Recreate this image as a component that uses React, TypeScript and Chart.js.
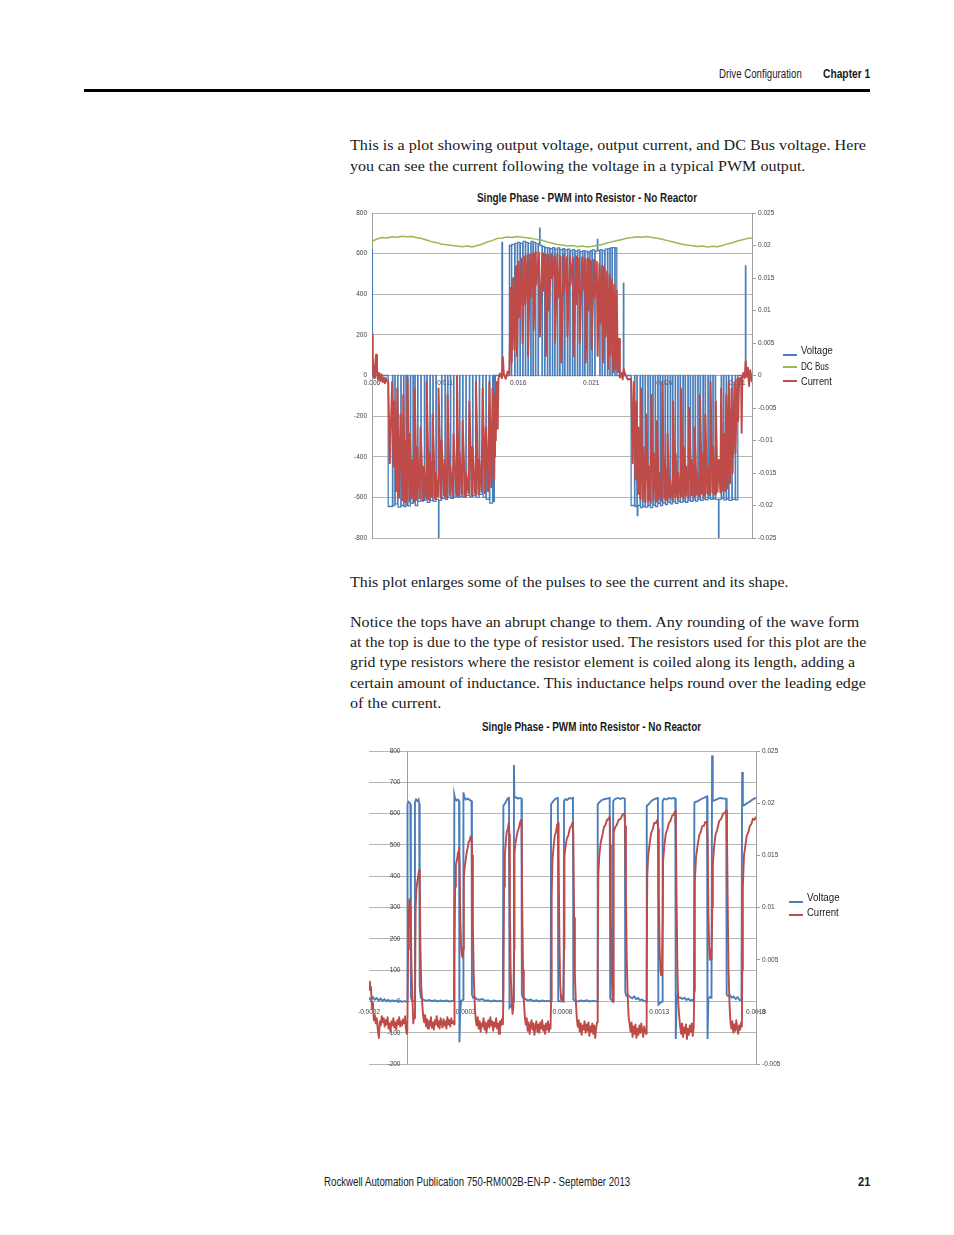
import React, { useEffect, useLayoutEffect, useRef } from 'react';
import { Chart, registerables } from 'chart.js';

Chart.register(...registerables);

// ---------------- DATA: wide view (Single Phase - PWM into Resistor - No Reactor) ----------------
const wideTimeTicks = [0.006, 0.011, 0.016, 0.021, 0.026, 0.031];
const wideTimeLabels = ['0.006', '0.011', '0.016', '0.021', '0.026', '0.031'];
const wideVoltTicks = [800, 600, 400, 200, 0, -200, -400, -600, -800];
const wideVoltLabels = ['800', '600', '400', '200', '0', '-200', '-400', '-600', '-800'];
const wideCurrentTicks = [0.025, 0.02, 0.015, 0.01, 0.005, 0, -0.005, -0.01, -0.015, -0.02, -0.025];
const wideCurrentLabels = ['0.025', '0.02', '0.015', '0.01', '0.005', '0', '-0.005', '-0.01', '-0.015', '-0.02', '-0.025'];

// Voltage as steps: [time s, volts held from that time on]
const wideVoltageSteps: [number, number][] = [
  [0.006, 620], [0.00603, 0],
  // negative half cycle 1
  [0.00711, -645], [0.0074, 0], [0.00743, -640], [0.00756, 0], [0.00759, -632], [0.00775, 0], [0.00778, -648],
  [0.00797, 0], [0.008, -640], [0.00816, 0], [0.00819, -645], [0.00832, 0], [0.00835, -638], [0.00843, 0],
  [0.00846, -642], [0.00862, 0], [0.00865, -630], [0.0088, 0], [0.00883, -626], [0.00893, 0], [0.00896, -640],
  [0.00912, 0], [0.00915, -620], [0.00934, 0], [0.00937, -615], [0.00958, 0], [0.00961, -612], [0.00975, 0],
  [0.00978, -625], [0.00996, 0], [0.00999, -615], [0.01016, 0], [0.01019, -620], [0.01037, 0], [0.0104, -610],
  [0.01055, -800], [0.01058, -615], [0.01076, 0], [0.01079, -605], [0.01099, 0], [0.01102, -610], [0.01117, 0],
  [0.0112, -600], [0.01136, 0], [0.01139, -605], [0.01158, 0], [0.01161, -598], [0.01181, 0], [0.01184, -600],
  [0.01199, 0], [0.01202, -595], [0.0122, 0], [0.01223, -600], [0.01242, 0], [0.01245, -590], [0.01266, 0],
  [0.01269, -598], [0.01288, 0], [0.01291, -592], [0.01311, 0], [0.01314, -600], [0.01334, 0], [0.01337, -585],
  [0.01357, 0], [0.0136, -600], [0.01379, 0], [0.01382, -610], [0.01403, 0], [0.01406, -628], [0.01425, 0],
  [0.01428, -620], [0.01437, 0], [0.0144, -400], [0.01444, 0],
  // positive half cycle
  [0.01489, 655], [0.01493, 0],
  [0.0154, 640], [0.01553, 0], [0.01556, 645], [0.01576, 0], [0.01579, 650], [0.01594, 0], [0.01597, 655],
  [0.01612, 0], [0.01615, 650], [0.01631, 0], [0.01634, 660], [0.01649, 0], [0.01652, 655], [0.01667, 0],
  [0.0167, 650], [0.01686, 0], [0.01689, 660], [0.01701, 0], [0.01704, 655], [0.01718, 0], [0.01721, 650],
  [0.01736, 0], [0.01739, 648], [0.01747, 726], [0.0175, 640], [0.01763, 0], [0.01766, 635], [0.01781, 0],
  [0.01784, 630], [0.018, 0], [0.01803, 628], [0.01816, 0], [0.01819, 625], [0.01834, 0], [0.01837, 630],
  [0.0185, 0], [0.01853, 622], [0.01868, 0], [0.01871, 628], [0.01884, 0], [0.01887, 620], [0.01903, 0],
  [0.01906, 625], [0.01918, 0], [0.01921, 618], [0.01937, 0], [0.0194, 622], [0.01953, 0], [0.01956, 615],
  [0.01971, 0], [0.01974, 620], [0.01987, 0], [0.0199, 612], [0.02005, 0], [0.02008, 618], [0.02021, 0],
  [0.02024, 610], [0.0204, 0], [0.02043, 615], [0.02055, 0], [0.02058, 612], [0.02074, 0], [0.02077, 608],
  [0.0209, 0], [0.02093, 615], [0.02105, 0], [0.02108, 618], [0.02124, 0], [0.02127, 612], [0.02142, 670],
  [0.02145, 615], [0.02158, 0], [0.02161, 620], [0.02174, 0], [0.02177, 615], [0.02192, 0], [0.02195, 622],
  [0.02211, 0], [0.02214, 625], [0.02227, 0], [0.0223, 628], [0.02242, 0], [0.02245, 630], [0.02261, 0],
  [0.02264, 628], [0.02275, 0],
  [0.0232, 455], [0.02323, 0],
  // negative half cycle 2
  [0.02373, -640], [0.02396, 0], [0.02399, -645], [0.02412, 0], [0.02415, -690], [0.02419, -640], [0.02434, 0],
  [0.02437, -650], [0.02451, 0], [0.02454, -645], [0.02468, 0], [0.02471, -648], [0.02487, 0], [0.0249, -640],
  [0.02503, 0], [0.02506, -650], [0.02521, 0], [0.02524, -638], [0.02537, 0], [0.0254, -645], [0.02555, 0],
  [0.02558, -630], [0.02571, 0], [0.02574, -640], [0.02588, 0], [0.02591, -628], [0.02605, 0], [0.02608, -635],
  [0.02622, 0], [0.02625, -625], [0.0264, 0], [0.02643, -632], [0.02656, 0], [0.02659, -622], [0.02674, 0],
  [0.02677, -630], [0.02692, 0], [0.02695, -620], [0.02708, 0], [0.02711, -625], [0.02727, 0], [0.0273, -618],
  [0.02742, 0], [0.02745, -624], [0.02761, 0], [0.02764, -615], [0.02777, 0], [0.0278, -620], [0.02795, 0],
  [0.02798, -612], [0.02811, 0], [0.02814, -618], [0.02829, 0], [0.02832, -610], [0.02845, 0], [0.02848, -615],
  [0.02864, 0], [0.02867, -608], [0.02879, 0], [0.02882, -612], [0.02898, 0], [0.02901, -605], [0.02914, 0],
  [0.02917, -610], [0.02932, 0], [0.02935, -606], [0.02948, 0], [0.02951, -610], [0.02971, -800], [0.02974, -610],
  [0.02989, 0], [0.02992, -605], [0.03005, 0], [0.03008, -612], [0.03023, 0], [0.03026, -608], [0.0304, 0],
  [0.03043, -615], [0.03062, 0], [0.03065, -610], [0.03085, 0], [0.03088, -612], [0.03103, 0],
  [0.03155, 540], [0.03158, 0], [0.032, 0],
];

// DC Bus voltage [s, V]
const wideDcBus: [number, number][] = [
  [0.006, 660], [0.00634, 672], [0.00668, 679], [0.00703, 677], [0.00737, 683], [0.00771, 681], [0.00805, 686],
  [0.0084, 683], [0.00874, 684], [0.00908, 678], [0.00942, 674], [0.00977, 666], [0.01011, 658], [0.01045, 654],
  [0.01079, 646], [0.01114, 644], [0.01148, 640], [0.01182, 638], [0.01216, 634], [0.01251, 637], [0.01285, 633],
  [0.01319, 640], [0.01353, 646], [0.01388, 657], [0.01422, 664], [0.01456, 674], [0.0149, 677], [0.01525, 682],
  [0.01559, 679], [0.01593, 684], [0.01627, 681], [0.01662, 678], [0.01696, 675], [0.0173, 669], [0.01764, 666],
  [0.01799, 657], [0.01833, 651], [0.01867, 645], [0.01901, 643], [0.01936, 638], [0.0197, 640], [0.02004, 634],
  [0.02038, 637], [0.02073, 633], [0.02107, 636], [0.02141, 641], [0.02175, 645], [0.0221, 652], [0.02244, 659],
  [0.02278, 665], [0.02312, 670], [0.02347, 677], [0.02381, 679], [0.02415, 683], [0.02449, 681], [0.02484, 684],
  [0.02518, 679], [0.02552, 676], [0.02586, 671], [0.02621, 664], [0.02655, 658], [0.02689, 652], [0.02723, 646],
  [0.02758, 642], [0.02792, 639], [0.02826, 635], [0.0286, 637], [0.02895, 633], [0.02929, 636], [0.02963, 634],
  [0.02997, 640], [0.03032, 648], [0.03066, 654], [0.031, 662], [0.03134, 668], [0.03169, 675], [0.032, 677],
];

// Current [s, A] (right axis)
const wideCurrent: [number, number][] = [
  [0.006, 0.0063], [0.00605, 0.003], [0.0061, 0.0002], [0.00615, -0.0004], [0.0062, 0.001], [0.00628, 0.0032],
  [0.00634, 0.0005], [0.0064, -0.0006], [0.00648, 0.0004], [0.00656, -0.0008], [0.00664, 0.0002], [0.00672, -0.001],
  [0.0068, -0.0003], [0.00688, -0.0012], [0.00696, -0.0004], [0.00704, -0.0009],
  [0.00711, -0.001], [0.00722, -0.0135], [0.00738, -0.001], [0.00748, -0.014], [0.00754, -0.004], [0.00765, -0.0178],
  [0.00773, -0.002], [0.00785, -0.0188], [0.00795, -0.006], [0.00808, -0.0192], [0.00814, -0.003], [0.00826, -0.0195],
  [0.0083, -0.01], [0.00839, -0.019], [0.00843, -0.0005], [0.00856, -0.0194], [0.0086, -0.009], [0.00872, -0.0189],
  [0.00876, -0.013], [0.00888, -0.0193], [0.00892, -0.002], [0.00906, -0.0191], [0.0091, -0.011], [0.00926, -0.0189],
  [0.00932, -0.008], [0.0095, -0.0193], [0.00956, -0.014], [0.0097, -0.0188], [0.00974, -0.001], [0.0099, -0.0191],
  [0.00995, -0.012], [0.0101, -0.0187], [0.01015, -0.006], [0.01032, -0.019], [0.01036, -0.015], [0.01052, -0.0186],
  [0.01055, -0.002], [0.01072, -0.0189], [0.01076, -0.01], [0.01093, -0.0185], [0.01098, -0.013], [0.01113, -0.0188],
  [0.01117, -0.003], [0.01132, -0.0184], [0.01136, -0.014], [0.01153, -0.0187], [0.01158, -0.009], [0.01176, -0.0184],
  [0.01181, -0.0002], [0.01195, -0.0185], [0.01199, -0.012], [0.01215, -0.0183], [0.0122, -0.007], [0.01237, -0.0186],
  [0.01242, -0.015], [0.0126, -0.0181], [0.01266, -0.004], [0.01283, -0.0185], [0.01288, -0.011], [0.01305, -0.0182],
  [0.01311, -0.001], [0.01328, -0.0183], [0.01334, -0.013], [0.0135, -0.0179], [0.01357, -0.002], [0.01372, -0.0181],
  [0.01379, -0.008], [0.01394, -0.0178], [0.01403, -0.001], [0.01416, -0.0172], [0.01425, -0.002], [0.01436, -0.016],
  [0.01442, -0.003], [0.01447, -0.01], [0.01452, -0.001], [0.0146, -0.0082], [0.01465, -0.0005], [0.01475, 0.0003],
  [0.01489, -0.0004], [0.01495, 0.0028], [0.01502, 0.0002], [0.01515, -0.0005], [0.01528, 0.0006],
  [0.0154, 0.0002], [0.0155, 0.0135], [0.01556, 0.002], [0.01566, 0.015], [0.01574, 0.004], [0.01586, 0.0168],
  [0.01592, 0.003], [0.01604, 0.0175], [0.0161, 0.009], [0.01624, 0.018], [0.0163, 0.005], [0.01644, 0.0183],
  [0.01649, 0.011], [0.01664, 0.0185], [0.01668, 0.003], [0.01682, 0.0186], [0.01686, 0.012], [0.01702, 0.0188],
  [0.01706, 0.007], [0.0172, 0.019], [0.01724, 0.014], [0.01742, 0.0189], [0.01749, 0.006], [0.01765, 0.0188],
  [0.0177, 0.013], [0.01786, 0.0186], [0.0179, 0.003], [0.01806, 0.0185], [0.0181, 0.01], [0.01828, 0.0187],
  [0.01832, 0.015], [0.01848, 0.0184], [0.01852, 0.005], [0.01868, 0.0186], [0.01873, 0.012], [0.0189, 0.0183],
  [0.01895, 0.002], [0.01912, 0.0185], [0.01916, 0.013], [0.01932, 0.0182], [0.01937, 0.006], [0.01954, 0.0184],
  [0.01958, 0.014], [0.01975, 0.0181], [0.0198, 0.003], [0.01996, 0.0183], [0.02, 0.011], [0.02016, 0.018],
  [0.02021, 0.005], [0.02038, 0.0182], [0.02042, 0.013], [0.02058, 0.0179], [0.02062, 0.002], [0.02078, 0.018],
  [0.02083, 0.01], [0.02098, 0.0176], [0.02103, 0.004], [0.02118, 0.0178], [0.02124, 0.012], [0.02138, 0.0175],
  [0.02144, 0.003], [0.02156, 0.0172], [0.02162, 0.008], [0.02174, 0.0168], [0.0218, 0.002], [0.02192, 0.0165],
  [0.02198, 0.006], [0.02209, 0.016], [0.02215, 0.001], [0.02226, 0.0155], [0.02232, 0.003], [0.02242, 0.0148],
  [0.0225, 0.0005], [0.02258, 0.014], [0.02266, 0.001], [0.02274, 0.013], [0.02282, 0.0005], [0.0229, 0.0056],
  [0.02296, -0.0003], [0.02305, 0.0004], [0.02315, -0.0006], [0.02322, 0.001], [0.0233, 0.0003], [0.0235, -0.0006],
  [0.02373, -0.0005], [0.02384, -0.0135], [0.02392, -0.001], [0.02403, -0.016], [0.02409, -0.004], [0.0242, -0.0182],
  [0.02424, -0.008], [0.02436, -0.019], [0.02441, -0.002], [0.02453, -0.0193], [0.02458, -0.011], [0.02471, -0.0195],
  [0.02477, -0.006], [0.0249, -0.0192], [0.02494, -0.014], [0.02507, -0.0196], [0.02512, -0.003], [0.02526, -0.0192],
  [0.0253, -0.012], [0.02545, -0.0194], [0.02549, -0.007], [0.02563, -0.019], [0.02567, -0.015], [0.02582, -0.0193],
  [0.02586, -0.001], [0.02601, -0.0189], [0.02604, -0.013], [0.02619, -0.0192], [0.02622, -0.009], [0.02637, -0.0188],
  [0.0264, -0.016], [0.02656, -0.0191], [0.02659, -0.004], [0.02674, -0.0187], [0.02677, -0.012], [0.02693, -0.019],
  [0.02696, -0.015], [0.02711, -0.0186], [0.02714, -0.002], [0.0273, -0.0189], [0.02733, -0.011], [0.02748, -0.0185],
  [0.02751, -0.014], [0.02767, -0.0188], [0.0277, -0.005], [0.02785, -0.0184], [0.02788, -0.013], [0.02804, -0.0187],
  [0.02807, -0.008], [0.02822, -0.0183], [0.02825, -0.015], [0.0284, -0.0186], [0.02843, -0.003], [0.02858, -0.0182],
  [0.02862, -0.012], [0.02876, -0.0185], [0.0288, -0.006], [0.02894, -0.0181], [0.02898, -0.014], [0.02912, -0.0184],
  [0.02916, -0.001], [0.02929, -0.018], [0.02934, -0.011], [0.02947, -0.0183], [0.02952, -0.004], [0.02964, -0.0179],
  [0.02973, -0.013], [0.02984, -0.018], [0.02989, -0.002], [0.03, -0.0177], [0.03007, -0.009], [0.03017, -0.0178],
  [0.03024, -0.003], [0.03033, -0.0174], [0.03041, -0.001], [0.03049, -0.0166], [0.0306, -0.002], [0.03067, -0.015],
  [0.0308, -0.001], [0.03086, -0.012], [0.031, -0.0005], [0.03105, -0.007], [0.03112, -0.0004], [0.0312, -0.001],
  [0.03126, -0.0003], [0.03129, -0.0088], [0.03133, -0.0006], [0.0314, 0.0004], [0.0315, -0.0004], [0.03157, 0.0022],
  [0.03163, -0.0002], [0.03172, 0.0012], [0.0318, -0.0016], [0.03188, 0.0008], [0.032, -0.001],
];

// ---------------- DATA: zoomed view ----------------
const zoomTimeTicks = [-0.0002, 0.0003, 0.0008, 0.0013, 0.0018];
const zoomTimeLabels = ['-0.0002', '0.0003', '0.0008', '0.0013', '0.0018'];
const zoomVoltTicks = [800, 700, 600, 500, 400, 300, 200, 100, 0, -100, -200];
const zoomVoltLabels = ['800', '700', '600', '500', '400', '300', '200', '100', '0', '-100', '-200'];
const zoomCurrentTicks = [0.025, 0.02, 0.015, 0.01, 0.005, 0, -0.005];
const zoomCurrentLabels = ['0.025', '0.02', '0.015', '0.01', '0.005', '0', '-0.005'];

const zoomVoltage: [number, number][] = [
  [-0.0002, 12], [-0.00019, 5], [-0.00018, 14], [-0.00017, 6], [-0.00016, 11], [-0.00015, 3], [-0.00014, 9],
  [-0.00013, 2], [-0.00012, 7], [-0.00011, 1], [-0.0001, 5], [-0.00009, 0], [-0.00008, 4], [-0.00007, 1],
  [-0.00006, 3], [-0.00005, 0], [-0.00004, 2], [-0.00003, -1], [-0.00002, 1], [-0.00001, 0], [-0.000003, 0],
  [-0.000001, 630], [0.000004, 638], [0.00001, 635], [0.000014, 630], [0.0000165, 15], [0.000022, 3], [0.00003, 0],
  [0.0000355, 2], [0.0000375, 636], [0.000043, 645], [0.00005, 640], [0.000056, 645], [0.0000595, 632], [0.000062, 45],
  [0.000068, 12], [0.00008, 6], [0.000095, 2], [0.00011, 5], [0.000125, 1], [0.00014, 4], [0.000155, 0], [0.00017, 3],
  [0.000185, 1], [0.0002, 3], [0.000215, 0], [0.00023, 2], [0.000239, 1],
  [0.000241, 660], [0.000245, 648], [0.000252, 642], [0.00026, 645], [0.0002655, 640], [0.0002675, -130],
  [0.000271, -35], [0.000276, 2], [0.000283, 4], [0.000286, 6],
  [0.000288, 668], [0.000293, 652], [0.0003, 645], [0.00031, 648], [0.00032, 644], [0.00033, 640], [0.000332, 22],
  [0.000338, 12], [0.000345, 15], [0.000355, 8], [0.00037, 5], [0.000385, 8], [0.0004, 2], [0.000415, 4], [0.00043, 0],
  [0.000445, 3], [0.00046, 1], [0.000475, 2], [0.000492, 0],
  [0.0004945, 625], [0.0005, 630], [0.000508, 638], [0.000516, 648], [0.0005235, 650], [0.000526, -20],
  [0.000533, -15], [0.000541, -5], [0.000547, 0],
  [0.000549, 755], [0.0005515, 650], [0.00056, 652], [0.00057, 648], [0.00058, 650], [0.000588, 648], [0.00059, 22],
  [0.000597, 10], [0.000608, 8], [0.00062, 3], [0.000635, 6], [0.00065, 1], [0.000665, 4], [0.00068, 0], [0.000695, 3],
  [0.00071, 1], [0.000725, 2], [0.000739, 0],
  [0.000741, 630], [0.000748, 636], [0.000756, 642], [0.000765, 648], [0.000776, 650], [0.000778, 2], [0.000788, 0],
  [0.0008, 2], [0.000806, 0],
  [0.000808, 640], [0.000815, 646], [0.000825, 644], [0.000835, 650], [0.000845, 648], [0.000854, 650], [0.000856, 6],
  [0.000865, 2], [0.00088, 0], [0.000895, 3], [0.00091, 1], [0.000925, 4], [0.00094, 0], [0.000955, 2], [0.00097, 1],
  [0.00098, 0],
  [0.000982, 630], [0.00099, 636], [0.001, 642], [0.001015, 646], [0.00103, 648], [0.001044, 650], [0.0010465, 10],
  [0.001054, 4], [0.00106, 0],
  [0.001062, 640], [0.00107, 646], [0.001085, 650], [0.0011, 647], [0.001112, 650], [0.001122, 648], [0.0011245, 30],
  [0.00113, 18], [0.00114, 20], [0.00115, 14], [0.00116, 10], [0.00117, 16], [0.00118, 8], [0.00119, 11], [0.0012, 4],
  [0.00121, 6], [0.00122, 2], [0.001233, 0],
  [0.0012355, 625], [0.001245, 630], [0.001258, 640], [0.00127, 645], [0.001282, 648], [0.001293, 650],
  [0.0012955, -10], [0.001305, -5], [0.001315, 0],
  [0.0013175, 640], [0.001325, 648], [0.001338, 645], [0.00135, 650], [0.001362, 648], [0.001375, 650], [0.001383, 648],
  [0.0013855, -120], [0.00139, 18], [0.001398, 14], [0.00141, 12], [0.00142, 8], [0.00143, 12], [0.00144, 5],
  [0.00145, 9], [0.00146, 3], [0.00147, 5], [0.001479, 0],
  [0.0014815, 635], [0.00149, 638], [0.0015, 640], [0.001515, 646], [0.00153, 650], [0.001547, 655], [0.0015495, -120],
  [0.001554, 10], [0.001562, 14], [0.00157, 12],
  [0.001573, 786], [0.0015765, 640], [0.001585, 642], [0.0016, 646], [0.001615, 650], [0.00163, 648], [0.001646, 648],
  [0.0016485, 22], [0.001655, 18], [0.001665, 20], [0.001675, 12], [0.001685, 16], [0.001695, 8], [0.001705, 14],
  [0.001715, 5], [0.001725, 3],
  [0.0017285, 733], [0.001732, 625], [0.001742, 628], [0.001755, 634], [0.001768, 638], [0.00178, 644], [0.00179, 648],
  [0.0018, 650],
];

const zoomCurrent: [number, number][] = [
  [-0.0002, 0.0029], [-0.000195, 0.0021], [-0.00019, 0.0024], [-0.000185, 0.0003], [-0.00018, 0.0009],
  [-0.000175, -0.0008], [-0.00017, -0.0003], [-0.000165, -0.0011], [-0.00016, -0.0006], [-0.000155, -0.0016],
  [-0.000149, -0.0025], [-0.000144, -0.0009], [-0.000139, -0.0013], [-0.000134, -0.0004], [-0.000129, -0.001],
  [-0.000124, -0.0006], [-0.000119, -0.0014], [-0.000114, -0.0008], [-0.000109, -0.0012], [-0.000104, -0.0005],
  [-0.000099, -0.0016], [-0.000094, -0.0011], [-0.000089, -0.0019], [-0.000084, -0.0009], [-0.000079, -0.0013],
  [-0.000074, -0.0006], [-0.000069, -0.0015], [-0.000064, -0.001], [-0.000059, -0.0017], [-0.000054, -0.0008],
  [-0.000049, -0.0012], [-0.000044, -0.0005], [-0.000039, -0.0014], [-0.000034, -0.0009], [-0.000029, -0.0013],
  [-0.000024, -0.0007], [-0.000019, -0.0011], [-0.000014, -0.0004], [-0.000009, -0.0016], [-0.000005, -0.0021],
  [-0.000002, -0.0018], [0.000002, 0.006], [0.000006, 0.0095], [0.0000085, 0.0108], [0.000012, 0.01],
  [0.000016, 0.0085], [0.00002, 0.004], [0.000025, 0.001], [0.000029, -0.0011], [0.000033, -0.0004],
  [0.0000376, -0.0006], [0.000041, 0.01], [0.000045, 0.0118], [0.00005, 0.0125], [0.000055, 0.0131], [0.000059, 0.0136],
  [0.000062, 0.0128], [0.000066, 0.006], [0.00007, 0.0025], [0.000075, 0.0008], [0.00008, -0.0004],
  [0.000085, -0.001], [0.00009, -0.0003], [0.000095, -0.0014], [0.0001, -0.0007], [0.000105, -0.0016], [0.00011, -0.0009],
  [0.000115, -0.0013], [0.00012, -0.0005], [0.000125, -0.0015], [0.00013, -0.001], [0.000135, -0.0017], [0.00014, -0.0008],
  [0.000145, -0.0012], [0.00015, -0.0004], [0.000155, -0.0014], [0.00016, -0.0009], [0.000165, -0.0016], [0.00017, -0.0006],
  [0.000175, -0.0011], [0.00018, -0.0015], [0.000185, -0.0007], [0.00019, -0.0013], [0.000195, -0.0009], [0.0002, -0.0016],
  [0.000205, -0.0005], [0.00021, -0.0012], [0.000215, -0.0008], [0.00022, -0.0014], [0.000225, -0.0006], [0.00023, -0.0011],
  [0.000235, -0.0009], [0.00024, -0.0012],
  [0.000242, 0.005], [0.000245, 0.012], [0.000249, 0.0141], [0.000255, 0.0146], [0.00026, 0.0153], [0.000265, 0.0157],
  [0.000268, 0.014], [0.000272, 0.009], [0.000276, 0.0062], [0.00028, 0.0055], [0.000284, 0.0052],
  [0.000288, 0.006], [0.00029, 0.0128], [0.000295, 0.014], [0.0003, 0.0146], [0.000305, 0.0153], [0.00031, 0.0157],
  [0.000315, 0.0163], [0.00032, 0.0164], [0.000325, 0.0168], [0.00033, 0.0167], [0.000333, 0.015], [0.000337, 0.008],
  [0.000342, 0.003], [0.000347, 0.0005], [0.000352, -0.0008],
  [0.000357, -0.0013], [0.000362, -0.0005], [0.000367, -0.0016], [0.000372, -0.0009], [0.000377, -0.0019], [0.000382, -0.0011],
  [0.000387, -0.0014], [0.000392, -0.0006], [0.000397, -0.0017], [0.000402, -0.001], [0.000407, -0.002], [0.000412, -0.0012],
  [0.000417, -0.0008], [0.000422, -0.0015], [0.000427, -0.0005], [0.000432, -0.0013], [0.000437, -0.0009], [0.000442, -0.0018],
  [0.000447, -0.001], [0.000452, -0.0014], [0.000457, -0.0006], [0.000462, -0.0016], [0.000467, -0.0011], [0.000472, -0.0021],
  [0.000477, -0.0009], [0.000482, -0.0013], [0.000487, -0.0007], [0.000492, -0.0012],
  [0.000495, 0.002], [0.000498, 0.012], [0.000502, 0.015], [0.000507, 0.0163], [0.000512, 0.0173], [0.000517, 0.0175],
  [0.000522, 0.0181], [0.000525, 0.017], [0.000528, 0.01], [0.000532, 0.004], [0.000537, 0.001], [0.000542, -0.0002],
  [0.000546, 0.0005],
  [0.00055, 0.006], [0.000552, 0.0152], [0.000556, 0.0161], [0.000562, 0.0167], [0.000568, 0.0173], [0.000574, 0.0176],
  [0.00058, 0.0181], [0.000586, 0.0184], [0.000589, 0.0176], [0.000592, 0.01], [0.000596, 0.004], [0.0006, 0.0012],
  [0.000605, -0.0004],
  [0.00061, -0.0012], [0.000615, -0.0006], [0.00062, -0.0018], [0.000625, -0.001], [0.00063, -0.0021], [0.000635, -0.0013],
  [0.00064, -0.0008], [0.000645, -0.0017], [0.00065, -0.0011], [0.000655, -0.0022], [0.00066, -0.0014], [0.000665, -0.0009],
  [0.00067, -0.0019], [0.000675, -0.0012], [0.00068, -0.002], [0.000685, -0.001], [0.00069, -0.0016], [0.000695, -0.0008],
  [0.0007, -0.0018], [0.000705, -0.0013], [0.00071, -0.0021], [0.000715, -0.0011], [0.00072, -0.0017], [0.000725, -0.0009],
  [0.00073, -0.0019], [0.000735, -0.0012], [0.000738, -0.0016],
  [0.000741, 0.001], [0.000744, 0.011], [0.000748, 0.0145], [0.000754, 0.0158], [0.00076, 0.0169], [0.000766, 0.0172],
  [0.000772, 0.0179], [0.000777, 0.0181], [0.00078, 0.015], [0.000784, 0.007], [0.000788, 0.0025], [0.000793, 0.0012],
  [0.000798, 0.0015], [0.000803, 0.001],
  [0.000808, 0.006], [0.00081, 0.015], [0.000815, 0.0157], [0.000822, 0.0166], [0.00083, 0.0169], [0.000838, 0.0176],
  [0.000846, 0.0178], [0.000853, 0.0182], [0.000856, 0.017], [0.00086, 0.009], [0.000864, 0.0035], [0.000869, 0.001],
  [0.000874, -0.0006],
  [0.000879, -0.0014], [0.000884, -0.0008], [0.000889, -0.0019], [0.000894, -0.0011], [0.000899, -0.0022], [0.000904, -0.0013],
  [0.000909, -0.0017], [0.000914, -0.0009], [0.000919, -0.002], [0.000924, -0.0012], [0.000929, -0.0018], [0.000934, -0.001],
  [0.000939, -0.0023], [0.000944, -0.0014], [0.000949, -0.0019], [0.000954, -0.0011], [0.000959, -0.0021], [0.000964, -0.0013],
  [0.000969, -0.0025], [0.000974, -0.0015], [0.000979, -0.001],
  [0.000982, 0.004], [0.000985, 0.013], [0.00099, 0.015], [0.000998, 0.0163], [0.001006, 0.0169], [0.001014, 0.0177],
  [0.001022, 0.0179], [0.00103, 0.0184], [0.001038, 0.0185], [0.001044, 0.0187], [0.001047, 0.016], [0.00105, 0.009],
  [0.001054, 0.004], [0.001058, 0.0015], [0.001061, 0.001],
  [0.001063, 0.008], [0.001066, 0.0172], [0.001072, 0.0177], [0.00108, 0.0179], [0.00109, 0.0184], [0.0011, 0.0185],
  [0.00111, 0.0189], [0.00112, 0.019], [0.001124, 0.0178], [0.001128, 0.011], [0.001132, 0.005], [0.001137, 0.0015],
  [0.001142, -0.0005],
  [0.001147, -0.0012], [0.001152, -0.0019], [0.001157, -0.001], [0.001162, -0.0024], [0.001167, -0.0014], [0.001172, -0.0021],
  [0.001177, -0.0012], [0.001182, -0.0025], [0.001187, -0.0016], [0.001192, -0.0022], [0.001197, -0.0013], [0.001202, -0.002],
  [0.001207, -0.0011], [0.001212, -0.0018], [0.001217, -0.0024], [0.001222, -0.0014], [0.001227, -0.0019], [0.001232, -0.0021],
  [0.001235, 0.003], [0.001238, 0.013], [0.001243, 0.015], [0.00125, 0.0161], [0.001258, 0.0171], [0.001266, 0.0175],
  [0.001274, 0.0181], [0.001282, 0.0181], [0.00129, 0.0184], [0.001295, 0.0175], [0.001298, 0.011], [0.001302, 0.006],
  [0.001306, 0.004], [0.00131, 0.0035], [0.001314, 0.0038],
  [0.001318, 0.009], [0.00132, 0.0145], [0.001326, 0.0159], [0.001334, 0.0171], [0.001342, 0.0175], [0.00135, 0.0181],
  [0.001358, 0.0183], [0.001366, 0.0188], [0.001374, 0.0189], [0.001382, 0.0192], [0.001386, 0.0175], [0.00139, 0.01],
  [0.001394, 0.004], [0.001398, 0.001], [0.001403, -0.0004],
  [0.001408, -0.0014], [0.001413, -0.0021], [0.001418, -0.0011], [0.001423, -0.0024], [0.001428, -0.0015], [0.001433, -0.002],
  [0.001438, -0.0012], [0.001443, -0.0026], [0.001448, -0.0016], [0.001453, -0.0022], [0.001458, -0.0013], [0.001463, -0.0019],
  [0.001468, -0.0011], [0.001473, -0.0023], [0.001478, -0.0015],
  [0.001481, 0.002], [0.001484, 0.0125], [0.00149, 0.0148], [0.001498, 0.0159], [0.001506, 0.0169], [0.001514, 0.0172],
  [0.001522, 0.0178], [0.00153, 0.0178], [0.001538, 0.0182], [0.001546, 0.0182], [0.00155, 0.0165], [0.001554, 0.0095],
  [0.001558, 0.006], [0.001562, 0.005], [0.001566, 0.0055], [0.00157, 0.005],
  [0.001574, 0.01], [0.001577, 0.0142], [0.001583, 0.0157], [0.00159, 0.0169], [0.0016, 0.0175], [0.00161, 0.0183],
  [0.00162, 0.0185], [0.00163, 0.019], [0.00164, 0.0191], [0.001647, 0.0193], [0.00165, 0.0175], [0.001654, 0.01],
  [0.001658, 0.004], [0.001663, 0.0008], [0.001668, -0.001],
  [0.001673, -0.0016], [0.001678, -0.0009], [0.001683, -0.002], [0.001688, -0.0012], [0.001693, -0.0018], [0.001698, -0.0008],
  [0.001703, -0.0015], [0.001708, -0.0021], [0.001713, -0.0013], [0.001718, -0.0017], [0.001723, -0.001], [0.001727, -0.0014],
  [0.001729, 0.004], [0.001732, 0.012], [0.001738, 0.015], [0.001745, 0.0159], [0.001752, 0.0169], [0.00176, 0.0172],
  [0.001768, 0.0178], [0.001776, 0.018], [0.001784, 0.0185], [0.001792, 0.0184], [0.0018, 0.0187],
];

// ---------------- helpers ----------------
const BLUE = '#4a7ebb';
const RED = '#be4b48';
const GREEN = '#98b954';
const GRID = '#b5b5b5';
const AXIS = '#9f9f9f';
const TICK_TEXT = '#3f3f3f';
const TICK_FONT = { family: '"Liberation Sans", Arial, sans-serif', size: 6.5 };
const NBSP4 = '\u00a0\u00a0\u00a0\u00a0';

function toXY(arr: [number, number][]) {
  return arr.map(([x, y]) => ({ x, y }));
}
function fixedTicks(values: number[]) {
  return (scale: any) => {
    scale.ticks = values.map((value) => ({ value }));
  };
}
function labelsFrom(labels: string[], suffix = '') {
  return (_v: any, i: number) => labels[i] + suffix;
}

function ChartCanvas({ left, top, width, height, config }: any) {
  const ref = useRef<HTMLCanvasElement>(null);
  useEffect(() => {
    if (!ref.current) return;
    const chart = new Chart(ref.current, config());
    return () => chart.destroy();
  }, []);
  return (
    <canvas
      ref={ref}
      width={width}
      height={height}
      style={{ position: 'absolute', left, top, width, height }}
    />
  );
}

function FitText({ x, y, w, size, text, serif, bold }: any) {
  const ref = useRef<HTMLSpanElement>(null);
  useLayoutEffect(() => {
    const el = ref.current;
    if (!el) return;
    el.style.transform = 'none';
    const natural = el.offsetWidth;
    if (natural > 0) el.style.transform = `scaleX(${w / natural})`;
  }, [w, text, size]);
  return (
    <span
      ref={ref}
      style={{
        position: 'absolute',
        left: x,
        top: y - size * 0.5,
        fontSize: size,
        lineHeight: `${size}px`,
        fontFamily: serif ? '"Liberation Serif", "Times New Roman", serif' : '"Liberation Sans", Arial, sans-serif',
        fontWeight: bold ? 700 : 400,
        whiteSpace: 'nowrap',
        transformOrigin: '0 0',
        color: '#1a1a1a',
        display: 'inline-block',
      }}
    >
      {text}
    </span>
  );
}

function LegendItem({ x, y, ty, color, label, w }: any) {
  return (
    <>
      <div style={{ position: 'absolute', left: x, top: y - 1, width: 14, height: 2, background: color }} />
      <FitText x={x + 18} y={ty} w={w} size={11} text={label} />
    </>
  );
}

function wideConfig() {
  return {
    type: 'line',
    data: {
      datasets: [
        {
          label: 'Voltage',
          data: toXY(wideVoltageSteps),
          borderColor: BLUE,
          borderWidth: 1.3,
          stepped: true,
          pointRadius: 0,
          yAxisID: 'y',
          order: 3,
        },
        {
          label: 'DC Bus',
          data: toXY(wideDcBus),
          borderColor: GREEN,
          borderWidth: 1.5,
          pointRadius: 0,
          yAxisID: 'y',
          order: 2,
        },
        {
          label: 'Current',
          data: toXY(wideCurrent),
          borderColor: RED,
          borderWidth: 2,
          borderJoinStyle: 'round',
          pointRadius: 0,
          yAxisID: 'y1',
          order: 1,
        },
      ],
    },
    options: {
      animation: false,
      responsive: false,
      devicePixelRatio: 1,
      events: [],
      layout: { padding: { top: 10, bottom: 10, left: 0, right: 0 } },
      plugins: { legend: { display: false }, tooltip: { enabled: false }, title: { display: false } },
      scales: {
        x: {
          type: 'linear',
          min: 0.006,
          max: 0.032,
          position: { y: 0 },
          afterBuildTicks: fixedTicks(wideTimeTicks),
          ticks: { callback: labelsFrom(wideTimeLabels), autoSkip: false, maxRotation: 0, padding: 4, font: TICK_FONT, color: TICK_TEXT },
          grid: { display: false, drawTicks: false },
          border: { display: false },
        },
        y: {
          type: 'linear',
          position: 'left',
          min: -800,
          max: 800,
          afterBuildTicks: fixedTicks(wideVoltTicks),
          afterFit: (s: any) => { s.width = 50; },
          ticks: { callback: labelsFrom(wideVoltLabels), autoSkip: false, padding: 5, font: TICK_FONT, color: TICK_TEXT },
          grid: { color: GRID, drawTicks: false, lineWidth: 1 },
          border: { display: true, color: AXIS },
        },
        y1: {
          type: 'linear',
          position: 'right',
          min: -0.025,
          max: 0.025,
          afterBuildTicks: fixedTicks(wideCurrentTicks),
          afterFit: (s: any) => { s.width = 48; },
          ticks: { callback: labelsFrom(wideCurrentLabels), autoSkip: false, padding: 2, font: TICK_FONT, color: TICK_TEXT },
          grid: { drawOnChartArea: false, color: AXIS, tickLength: 4 },
          border: { display: true, color: AXIS },
        },
      },
    },
  };
}

function zoomConfig() {
  return {
    type: 'line',
    data: {
      datasets: [
        {
          label: 'Voltage',
          data: toXY(zoomVoltage),
          borderColor: BLUE,
          borderWidth: 1.9,
          pointRadius: 0,
          yAxisID: 'y',
          order: 2,
        },
        {
          label: 'Current',
          data: toXY(zoomCurrent),
          borderColor: RED,
          borderWidth: 1.9,
          borderJoinStyle: 'round',
          pointRadius: 0,
          yAxisID: 'y1',
          order: 1,
        },
      ],
    },
    options: {
      animation: false,
      responsive: false,
      devicePixelRatio: 1,
      events: [],
      layout: { padding: { top: 11, bottom: 10, left: 47, right: 0 } },
      plugins: { legend: { display: false }, tooltip: { enabled: false }, title: { display: false } },
      scales: {
        x: {
          type: 'linear',
          min: -0.0002,
          max: 0.0018,
          position: { y: 0 },
          afterBuildTicks: fixedTicks(zoomTimeTicks),
          ticks: { callback: labelsFrom(zoomTimeLabels), autoSkip: false, maxRotation: 0, padding: 7, font: TICK_FONT, color: TICK_TEXT },
          grid: { display: false, drawTicks: false },
          border: { display: false },
        },
        y: {
          type: 'linear',
          position: { x: 0 },
          min: -200,
          max: 800,
          afterBuildTicks: fixedTicks(zoomVoltTicks),
          ticks: { callback: labelsFrom(zoomVoltLabels, NBSP4), autoSkip: false, padding: 7, font: TICK_FONT, color: TICK_TEXT },
          grid: { color: GRID, drawTicks: false, lineWidth: 1 },
          border: { display: true, color: AXIS },
        },
        y1: {
          type: 'linear',
          position: 'right',
          min: -0.005,
          max: 0.025,
          afterBuildTicks: fixedTicks(zoomCurrentTicks),
          afterFit: (s: any) => { s.width = 44; },
          ticks: { callback: labelsFrom(zoomCurrentLabels), autoSkip: false, padding: 2, font: TICK_FONT, color: TICK_TEXT },
          grid: { drawOnChartArea: false, color: AXIS, tickLength: 4 },
          border: { display: true, color: AXIS },
        },
      },
    },
  };
}

export default function App() {
  return (
    <div style={{ position: 'absolute', left: 0, top: 0, width: 954, height: 1235, background: '#fff', overflow: 'hidden' }}>
      <FitText x={719} y={74} w={83} size={12} text="Drive Configuration" />
      <FitText x={823} y={74} w={47} size={12} bold text="Chapter 1" />
      <div style={{ position: 'absolute', left: 84, top: 89, width: 786, height: 3, background: '#000' }} />

      <FitText x={350} y={145} w={516} size={15.5} serif text="This is a plot showing output voltage, output current, and DC Bus voltage. Here" />
      <FitText x={350} y={166} w={455} size={15.5} serif text="you can see the current following the voltage in a typical PWM output." />

      <FitText x={477} y={198} w={220} size={12} bold text="Single Phase - PWM into Resistor - No Reactor" />
      <ChartCanvas left={322} top={203} width={478} height={345} config={wideConfig} />
      <LegendItem x={783} y={355} ty={350} color={BLUE} label="Voltage" w={32} />
      <LegendItem x={783} y={367} ty={366} color={GREEN} label="DC Bus" w={28} />
      <LegendItem x={783} y={381} ty={381} color={RED} label="Current" w={31} />

      <FitText x={350} y={582} w={439} size={15.5} serif text="This plot enlarges some of the pulses to see the current and its shape." />
      <FitText x={350} y={622} w={509} size={15.5} serif text="Notice the tops have an abrupt change to them. Any rounding of the wave form" />
      <FitText x={350} y={642} w={516} size={15.5} serif text="at the top is due to the type of resistor used. The resistors used for this plot are the" />
      <FitText x={350} y={662} w={505} size={15.5} serif text="grid type resistors where the resistor element is coiled along its length, adding a" />
      <FitText x={350} y={683} w={516} size={15.5} serif text="certain amount of inductance. This inductance helps round over the leading edge" />
      <FitText x={350} y={703} w={91} size={15.5} serif text="of the current." />

      <FitText x={482} y={727} w={219} size={12} bold text="Single Phase - PWM into Resistor - No Reactor" />
      <ChartCanvas left={322} top={740} width={478} height={335} config={zoomConfig} />
      <LegendItem x={789} y={902} ty={897} color={BLUE} label="Voltage" w={33} />
      <LegendItem x={789} y={915} ty={912} color={RED} label="Current" w={32} />

      <FitText x={324} y={1182} w={306} size={12} text="Rockwell Automation Publication 750-RM002B-EN-P - September 2013" />
      <FitText x={858} y={1182} w={12} size={12} bold text="21" />
    </div>
  );
}
